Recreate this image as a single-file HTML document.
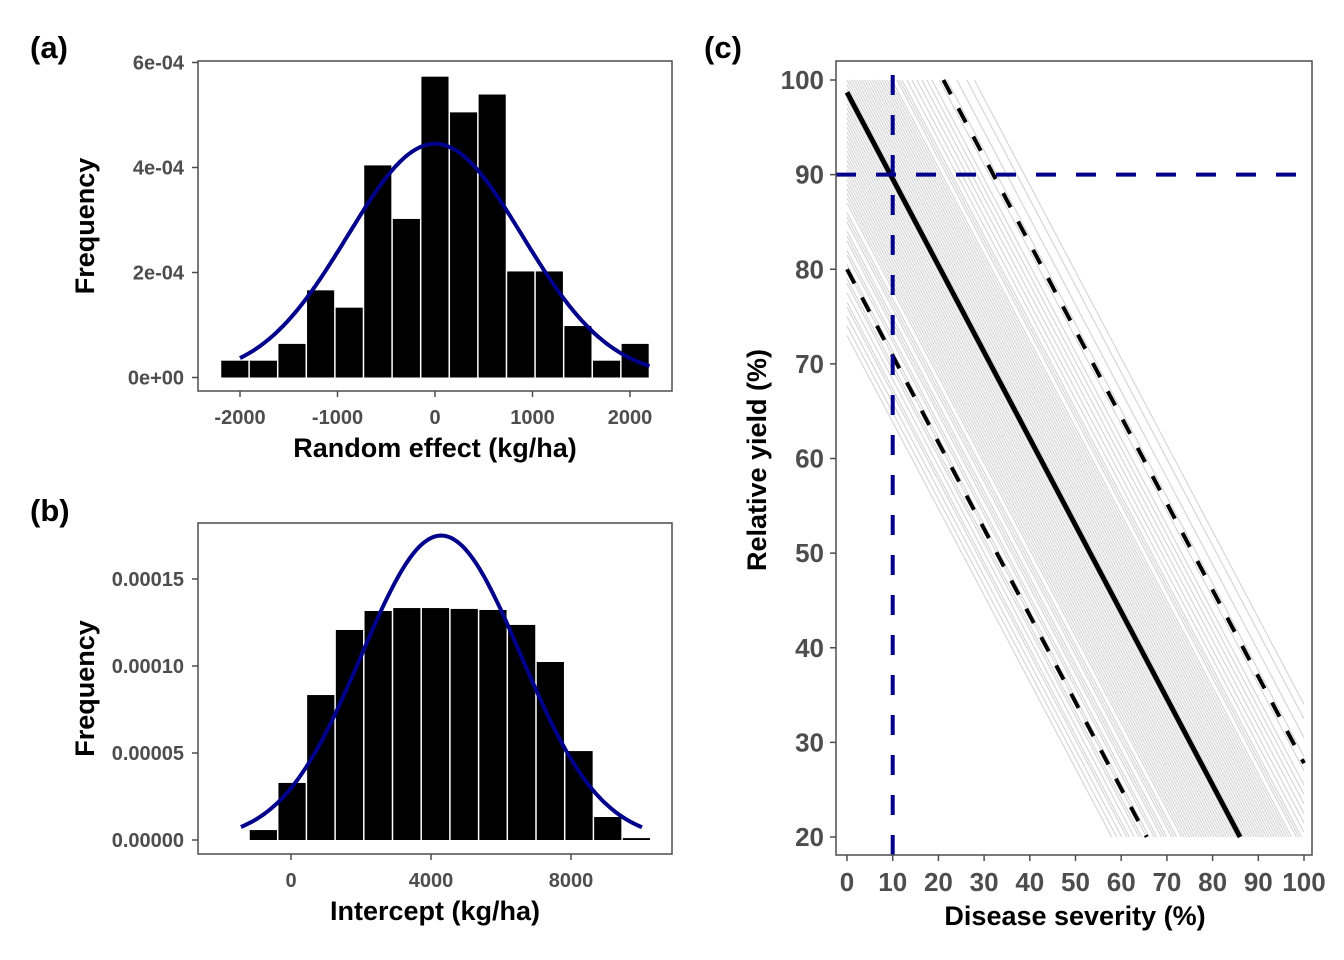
<!DOCTYPE html>
<html><head><meta charset="utf-8"><style>
body{margin:0;background:#fff;}
svg{display:block;font-family:"Liberation Sans",Arial,sans-serif;}
.tk{font-size:20px;font-weight:bold;fill:#4d4d4d;}
.tkc{font-size:26px;font-weight:bold;fill:#4d4d4d;}
.ttl{font-size:27px;font-weight:bold;fill:#000;}
.pl{font-size:31px;font-weight:bold;fill:#000;}
</style></head><body>
<svg id="fig" width="1344" height="960" xmlns="http://www.w3.org/2000/svg">
<text class="pl" x="30" y="58">(a)</text>
<text class="pl" x="30" y="521">(b)</text>
<text class="pl" x="704" y="58">(c)</text>
<g id="pa"></g>
<g id="pb"></g>
<g id="pc"></g>
</svg>
<script>
const NS="http://www.w3.org/2000/svg";
// Panel A data
const aBinStart=-2200, aBinW=293.3;
const aValues=[0.32,0.32,0.64,1.66,1.33,4.04,3.02,5.73,5.05,5.39,2.02,2.02,0.98,0.32,0.64]; // x1e-4
const aMean=0, aSd=896;
const aYTicks=[0,2e-4,4e-4,6e-4], aYLabels=["0e+00","2e-04","4e-04","6e-04"];
const aXTicks=[-2000,-1000,0,1000,2000], aXLabels=["-2000","-1000","0","1000","2000"];
// Panel B data
const bBinStart=-1200, bBinW=820;
const bValues=[0.57,3.28,8.33,12.07,13.16,13.33,13.33,13.28,13.22,12.36,10.23,5.11,1.32,0.11]; // x1e-5
const bMean=4290, bSd=2280;
const bYTicks=[0,5e-5,1e-4,1.5e-4], bYLabels=["0.00000","0.00005","0.00010","0.00015"];
const bXTicks=[0,4000,8000], bXLabels=["0","4000","8000"];
// Panel C data
const cSlope=-0.915, cMain=98.7, cUpper=119.3, cLower=80;
const cGray=[73,74,75,76,76.5,77.5,78.5,79,80,80.5,81.5,82,83,83.5,84,85,85.5,86,87,87.5,88,88.5,89,89.5,90,90.5,91,91.5,92,92.5,93,93.5,94,94.5,95,95.5,96,96.5,97,97.5,98,98.5,99,99.5,100,100.5,101,101.5,102,102.5,103,103.5,104,104.5,105,105.5,106,106.5,107,107.5,108,108.5,109,110,110.5,111,112,113,114,115,116,117,118.5,120,122,124,125.5];
const cXTicks=[0,10,20,30,40,50,60,70,80,90,100], cYTicks=[20,30,40,50,60,70,80,90,100];
const cVline=10, cHline=90;

function el(p,t,a){const e=document.createElementNS(NS,t);for(const k in a)e.setAttribute(k,a[k]);p.appendChild(e);return e;}
function txt(p,s,a){const e=el(p,'text',a);e.textContent=s;return e;}

function hist(g,box,xr,yr,binStart,binW,vals,unit,mean,sd,yT,yL,xT,xL,xtitle,name){
  const sx=v=>box.x0+(v-xr[0])/(xr[1]-xr[0])*(box.x1-box.x0);
  const sy=v=>box.yb+(v-yr[0])/(yr[1]-yr[0])*(box.yt-box.yb);
  vals.forEach((v,i)=>{const x0=sx(binStart+i*binW),x1=sx(binStart+(i+1)*binW);
    const r=el(g,'rect',{x:x0+0.75,y:sy(v*unit),width:x1-x0-1.5,height:sy(0)-sy(v*unit),fill:'#000'});
    
    });
  let d='';
  const xa=name==='a'?-2000:-1430, xb=name==='a'?2200:10030;
  for(let i=0;i<=200;i++){const x=xa+(xb-xa)*i/200;const y=Math.exp(-0.5*((x-mean)/sd)**2)/(sd*Math.sqrt(2*Math.PI));d+=(i?'L':'M')+sx(x).toFixed(1)+','+sy(y).toFixed(1);}
  const c=el(g,'path',{d:d,fill:'none',stroke:'#00008B','stroke-width':4});
  
  
  const f=el(g,'rect',{x:box.fx0,y:box.fy0,width:box.fx1-box.fx0,height:box.fy1-box.fy0,fill:'none',stroke:'#4d4d4d','stroke-width':1.5});
  
  
  yT.forEach((v,i)=>{el(g,'line',{x1:box.fx0-6,x2:box.fx0,y1:sy(v),y2:sy(v),stroke:'#4d4d4d','stroke-width':1.5});
    const t=txt(g,yL[i],{class:'tk',x:box.fx0-14,y:sy(v)+7,'text-anchor':'end'});
    
    });
  xT.forEach((v,i)=>{el(g,'line',{x1:sx(v),x2:sx(v),y1:box.fy1,y2:box.fy1+6,stroke:'#4d4d4d','stroke-width':1.5});
    const t=txt(g,xL[i],{class:'tk',x:sx(v),y:box.fy1+33,'text-anchor':'middle'});
    
    });
  const xt=txt(g,xtitle,{class:'ttl',x:(box.fx0+box.fx1)/2,y:box.fy1+66,'text-anchor':'middle'});
  
  
  const cy=(box.fy0+box.fy1)/2;
  const yt=txt(g,'Frequency',{class:'ttl',x:0,y:0,'text-anchor':'middle',transform:`translate(94,${cy}) rotate(-90)`});
  
  
}
hist(document.getElementById('pa'),{x0:240,x1:630,yb:377.5,yt:62.5,fx0:198,fx1:672,fy0:61,fy1:391},[-2000,2000],[0,6e-4],aBinStart,aBinW,aValues,1e-4,aMean,aSd,aYTicks,aYLabels,aXTicks,aXLabels,'Random effect (kg/ha)','a');
hist(document.getElementById('pb'),{x0:291,x1:571,yb:840,yt:579,fx0:198,fx1:672,fy0:523,fy1:854},[0,8000],[0,1.5e-4],bBinStart,bBinW,bValues,1e-5,bMean,bSd,bYTicks,bYLabels,bXTicks,bXLabels,'Intercept (kg/ha)','b');

// Panel C
(function(){
  const g=document.getElementById('pc');
  const sx=v=>847+v*4.57, sy=v=>837-(v-20)*9.4625;
  function seg(b){
    let x0=0,y0=b; if(y0>100){x0=(100-b)/cSlope;y0=100;}
    let x1=(20-b)/cSlope,y1=20; if(x1>100){x1=100;y1=b+cSlope*100;}
    return [x0,y0,x1,y1];}
  cGray.forEach(b=>{const s=seg(b);const l=el(g,'line',{x1:sx(s[0]),y1:sy(s[1]),x2:sx(s[2]),y2:sy(s[3]),stroke:'#b8b8b8','stroke-opacity':0.6,'stroke-width':1.1});
    
    });
  [[cUpper,'upper-prediction-interval'],[cLower,'lower-prediction-interval']].forEach(([b,n])=>{const s=seg(b);
    const l=el(g,'line',{x1:sx(s[0]),y1:sy(s[1]),x2:sx(s[2]),y2:sy(s[3]),stroke:'#000','stroke-width':4,'stroke-dasharray':'16,16'});
    
    });
  const s=seg(cMain);
  const m=el(g,'line',{x1:sx(s[0]),y1:sy(s[1]),x2:sx(s[2]),y2:sy(s[3]),stroke:'#000','stroke-width':5});
  
  
  const v=el(g,'line',{x1:sx(cVline),x2:sx(cVline),y1:75,y2:855,stroke:'#00008B','stroke-width':4,'stroke-dasharray':'20,20'});
  
  
  const h=el(g,'line',{x1:836,x2:1300,y1:sy(cHline),y2:sy(cHline),stroke:'#00008B','stroke-width':4,'stroke-dasharray':'20,20'});
  
  
  const f=el(g,'rect',{x:836,y:61,width:476,height:794,fill:'none',stroke:'#4d4d4d','stroke-width':1.5});
  
  
  cYTicks.forEach(t=>{el(g,'line',{x1:830,x2:836,y1:sy(t),y2:sy(t),stroke:'#4d4d4d','stroke-width':1.5});
    const e=txt(g,String(t),{class:'tkc',x:824,y:sy(t)+9,'text-anchor':'end'});
    
    });
  cXTicks.forEach(t=>{el(g,'line',{x1:sx(t),x2:sx(t),y1:855,y2:861,stroke:'#4d4d4d','stroke-width':1.5});
    const e=txt(g,String(t),{class:'tkc',x:sx(t),y:891,'text-anchor':'middle'});
    
    });
  const xt=txt(g,'Disease severity (%)',{class:'ttl',x:1075,y:925,'text-anchor':'middle'});
  
  
  const yt=txt(g,'Relative yield (%)',{class:'ttl',x:0,y:0,'text-anchor':'middle',transform:'translate(766,460) rotate(-90)'});
  
  
})();
</script>
</body></html>
